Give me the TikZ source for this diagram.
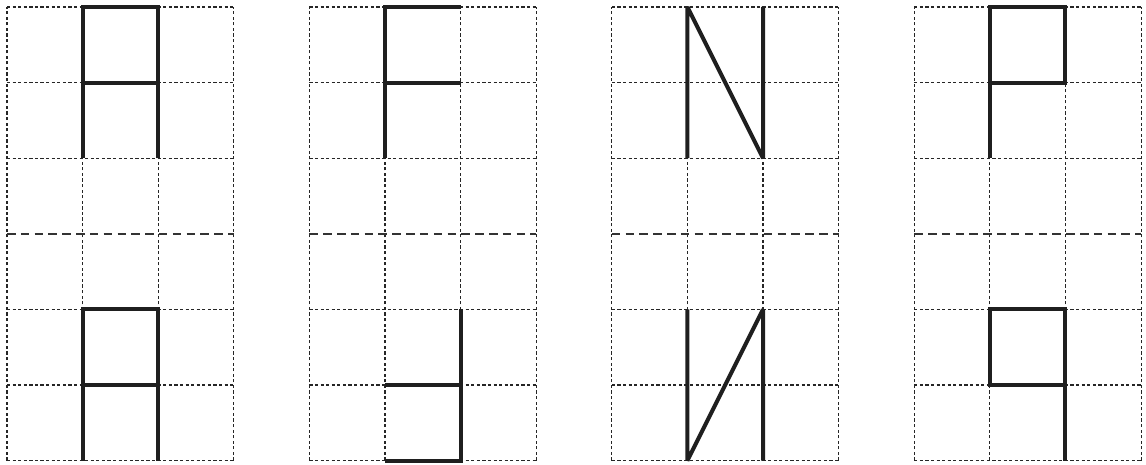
\documentclass[tikz,border=0pt]{standalone}
\begin{document}
\begin{tikzpicture}[x=1cm,y=1cm,
  gridline/.style={line width=0.4pt, draw=black!85, dash pattern=on 1.2pt off 0.9pt},
  axisline/.style={line width=0.8pt, draw=black!80, dash pattern=on 3.2pt off 2pt},
  glyph/.style={line width=1.5pt, draw=black!88, line join=miter}]
\useasboundingbox (-0.0926,-0.045) rectangle (15.066,6.0926);
\foreach \g in {0,4,8,12}{
  \begin{scope}[xshift=\g cm]
    \foreach \yy in {0,1,2,4,5,6} \draw[gridline] (0,\yy) -- (3,\yy);
    \foreach \xx in {0,1,2,3} \draw[gridline] (\xx,0) -- (\xx,6);
    \draw[axisline] (0,3) -- (3,3);
  \end{scope}
}
% grid 1
\draw[glyph] (1,4) -- (1,6) -- (2,6) -- (2,4);
\draw[glyph] (1,5) -- (2,5);
\draw[glyph] (1,0) -- (1,2) -- (2,2) -- (2,0);
\draw[glyph] (1,1) -- (2,1);
% grid 2
\draw[glyph] (5,4) -- (5,6) -- (6,6);
\draw[glyph] (5,5) -- (6,5);
\draw[glyph] (6,2) -- (6,0) -- (5,0);
\draw[glyph] (5,1) -- (6,1);
% grid 3
\draw[glyph, line join=bevel] (9,4) -- (9,6) -- (10,4) -- (10,6);
\draw[glyph, line join=bevel] (9,2) -- (9,0) -- (10,2) -- (10,0);
% grid 4
\draw[glyph] (13,4) -- (13,6) -- (14,6) -- (14,5) -- (13,5);
\draw[glyph] (14,0) -- (14,1) -- (13,1) -- (13,2) -- (14,2) -- (14,1);
\end{tikzpicture}
\end{document}
